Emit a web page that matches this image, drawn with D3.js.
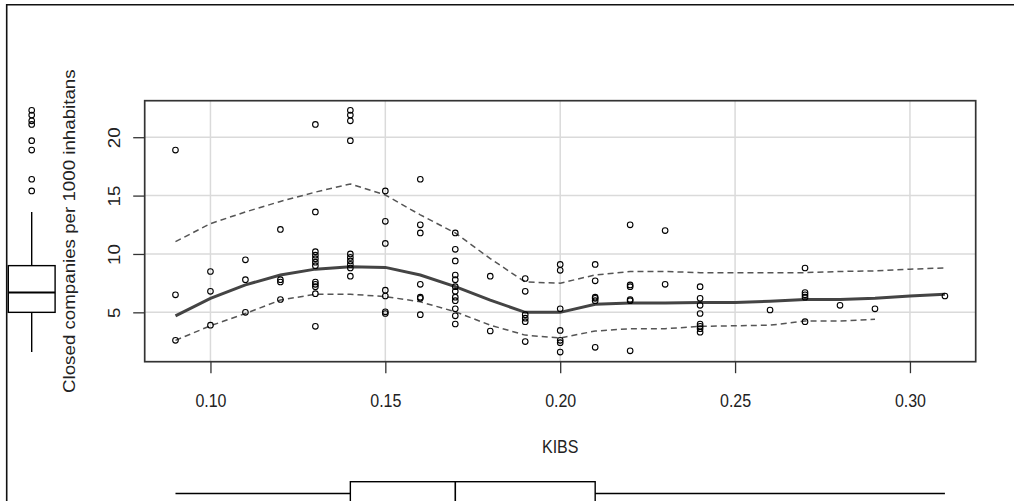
<!DOCTYPE html>
<html><head><meta charset="utf-8">
<script src="https://cdn.jsdelivr.net/npm/d3@7"></script>
<style>body{margin:0;background:#fff;} svg{display:block;} text{font-family:"Liberation Sans",Arial,sans-serif;fill:#222;}</style>
</head><body>
<svg id="c" width="1014" height="501"></svg>
<script>
// ---- data ----
const kibsLevels = [0.09,0.10,0.11,0.12,0.13,0.14,0.15,0.16,0.17,0.18,0.19,0.20,0.21,0.22,0.23,0.24,0.26,0.27,0.28,0.29,0.31];
const closedByLevel = [
  [18.9,6.5,2.6],
  [8.5,6.8,3.9],
  [9.5,7.8,5.0],
  [12.1,7.8,7.6,6.1],
  [21.1,13.6,10.2,9.9,9.6,9.3,9.0,7.6,7.4,7.2,6.6,3.8],
  [22.3,21.9,21.4,19.7,10.0,9.7,9.4,9.1,8.8,8.1],
  [15.4,12.8,10.9,6.9,6.4,5.05,4.9],
  [16.4,12.5,11.8,7.4,6.3,6.2,4.8],
  [11.8,10.4,9.4,8.2,7.8,7.2,6.8,6.3,6.0,5.3,4.7,4.0],
  [8.1,3.4],
  [7.9,6.8,4.8,4.5,4.2,2.5],
  [9.1,8.6,5.3,3.45,2.6,2.4,1.6],
  [9.1,7.7,6.3,6.2,6.0,2.0],
  [12.5,7.35,7.2,6.1,6.0,1.7],
  [12.0,7.4],
  [7.2,6.2,5.6,4.9,4.0,3.8,3.6,3.3],
  [5.2],
  [8.8,6.7,6.5,6.3,4.2],
  [5.6],
  [5.3],
  [6.4]
];
const smoothX     = [0.09,0.10,0.11,0.12,0.13,0.14,0.15,0.16,0.17,0.18,0.19,0.20,0.21,0.22,0.23,0.24,0.25,0.26,0.27,0.28,0.29,0.30,0.31];
const smoothFit   = [4.7,6.2,7.35,8.2,8.7,8.9,8.85,8.2,7.2,6.05,5.0,5.0,5.7,5.8,5.8,5.85,5.85,5.95,6.1,6.1,6.2,6.4,6.55];
const smoothUpper = [11.05,12.6,13.6,14.5,15.3,16.0,15.05,13.35,11.8,9.6,7.6,7.5,8.2,8.5,8.5,8.4,8.4,8.4,8.4,8.5,8.55,8.7,8.8];
const smoothLower = [2.6,3.85,4.9,6.05,6.55,6.55,6.35,5.9,5.05,3.9,3.05,2.8,3.4,3.6,3.6,3.8,3.85,3.9,4.25,4.25,4.4,null,null];
const xTicks = [0.10,0.15,0.20,0.25,0.30];
const yTicks = [5,10,15,20];
// boxplot stats: [lower whisker, Q1, median, Q3, upper whisker]
const yBoxStats = [1.6,5.0,6.7,9.0,13.6];
const xBoxStats = [0.09,0.14,0.17,0.21,0.31];
const xLabel = "KIBS";
const yLabel = "Closed companies per 1000 inhabitans";

// ---- drawing ----
const svg = d3.select('#c');
const points = [];
kibsLevels.forEach((k,i)=>closedByLevel[i].forEach(v=>points.push({x:k,y:v})));
function ext(e){const r=e[1]-e[0];return [e[0]-0.04*r,e[1]+0.04*r];}
const L=144.7,R=975.7,T=100.7,B=361.7;
const x = d3.scaleLinear().domain(ext(d3.extent(points,d=>d.x))).range([L,R]);
const y = d3.scaleLinear().domain(ext(d3.extent(points,d=>d.y))).range([B,T]);
const SY = 1.17; // vertical text stretch seen in the picture

// outer frame
svg.append('path').attr('d',`M6.7,${501+5}V4.7H${1014+5}`).attr('fill','none').attr('stroke','#111').attr('stroke-width',1.6);

// grid
const grid = svg.append('g').attr('stroke','#dadada').attr('stroke-width',1.5);
grid.selectAll('.gx').data(xTicks).join('line').attr('x1',d=>x(d)).attr('x2',d=>x(d)).attr('y1',T).attr('y2',B);
grid.selectAll('.gy').data(yTicks).join('line').attr('y1',d=>y(d)).attr('y2',d=>y(d)).attr('x1',L).attr('x2',R);

// axes
const gx = svg.append('g').attr('transform',`translate(0,${B})`)
  .call(d3.axisBottom(x).tickValues(xTicks).tickSize(11.5).tickFormat(d3.format('.2f')));
const gy = svg.append('g').attr('transform',`translate(${L},0)`)
  .call(d3.axisLeft(y).tickValues(yTicks).tickSize(11.5).tickFormat(d3.format('d')));
[gx,gy].forEach(g=>{g.select('.domain').remove();g.selectAll('line').attr('stroke','#333').attr('stroke-width',1.3);});
gx.selectAll('text').attr('y',null).attr('dy',null).attr('font-size',16).attr('fill','#222')
  .attr('text-anchor','middle').attr('transform',`translate(0,${407-B}) scale(1,${SY})`);
gy.selectAll('text').attr('x',null).attr('dy',null).attr('font-size',16).attr('fill','#222')
  .attr('text-anchor','middle').attr('transform',`translate(${120-L},0) scale(1,${SY}) rotate(-90)`);

// plot box
svg.append('rect').attr('x',L).attr('y',T).attr('width',R-L).attr('height',B-T)
  .attr('fill','none').attr('stroke','#333').attr('stroke-width',1.7);

// axis titles
svg.append('text').text(xLabel).attr('text-anchor','middle').attr('font-size',16)
  .attr('transform',`translate(${(L+R)/2},453) scale(1,${SY})`);
svg.append('text').text(yLabel).attr('text-anchor','middle').attr('font-size',16)
  .attr('transform',`translate(75,${(T+B)/2}) scale(1,${SY}) rotate(-90)`);

// smoother lines
function lineFor(vals){return d3.line().defined((d,i)=>vals[i]!=null).x(d=>x(d)).y((d,i)=>y(vals[i]))(smoothX);}
svg.append('path').attr('d',lineFor(smoothUpper)).attr('fill','none').attr('stroke','#555').attr('stroke-width',1.5).attr('stroke-dasharray','6,4');
svg.append('path').attr('d',lineFor(smoothLower)).attr('fill','none').attr('stroke','#555').attr('stroke-width',1.5).attr('stroke-dasharray','6,4');
svg.append('path').attr('d',lineFor(smoothFit)).attr('fill','none').attr('stroke','#444').attr('stroke-width',3);

// points
svg.append('g').selectAll('circle').data(points).join('circle')
  .attr('cx',d=>x(d.x)).attr('cy',d=>y(d.y)).attr('r',2.8)
  .attr('fill','none').attr('stroke','#000').attr('stroke-width',1.1);

// left marginal boxplot
const bx = 31.7, bw = 23.4;
const lb = svg.append('g').attr('stroke','#000').attr('fill','none').attr('stroke-width',1.4);
lb.append('line').attr('x1',bx).attr('x2',bx).attr('y1',y(yBoxStats[0])).attr('y2',y(yBoxStats[1]));
lb.append('line').attr('x1',bx).attr('x2',bx).attr('y1',y(yBoxStats[3])).attr('y2',y(yBoxStats[4]));
lb.append('rect').attr('x',bx-bw).attr('width',2*bw).attr('y',y(yBoxStats[3])).attr('height',y(yBoxStats[1])-y(yBoxStats[3]));
lb.append('line').attr('x1',bx-bw).attr('x2',bx+bw).attr('y1',y(yBoxStats[2])).attr('y2',y(yBoxStats[2])).attr('stroke-width',2);
lb.selectAll('circle').data(points.filter(d=>d.y>yBoxStats[4]+0.05)).join('circle')
  .attr('cx',bx).attr('cy',d=>y(d.y)).attr('r',2.8).attr('stroke-width',1.1);

// bottom marginal boxplot
const by = 493.5, bh = 11.8;
const bb = svg.append('g').attr('stroke','#000').attr('fill','none').attr('stroke-width',1.4);
bb.append('line').attr('y1',by).attr('y2',by).attr('x1',x(xBoxStats[0])).attr('x2',x(xBoxStats[1]));
bb.append('line').attr('y1',by).attr('y2',by).attr('x1',x(xBoxStats[3])).attr('x2',x(xBoxStats[4]));
bb.append('rect').attr('y',by-bh).attr('height',2*bh+20).attr('x',x(xBoxStats[1])).attr('width',x(xBoxStats[3])-x(xBoxStats[1]));
bb.append('line').attr('y1',by-bh).attr('y2',by+bh+20).attr('x1',x(xBoxStats[2])).attr('x2',x(xBoxStats[2])).attr('stroke-width',1.6);
</script>
</body></html>
